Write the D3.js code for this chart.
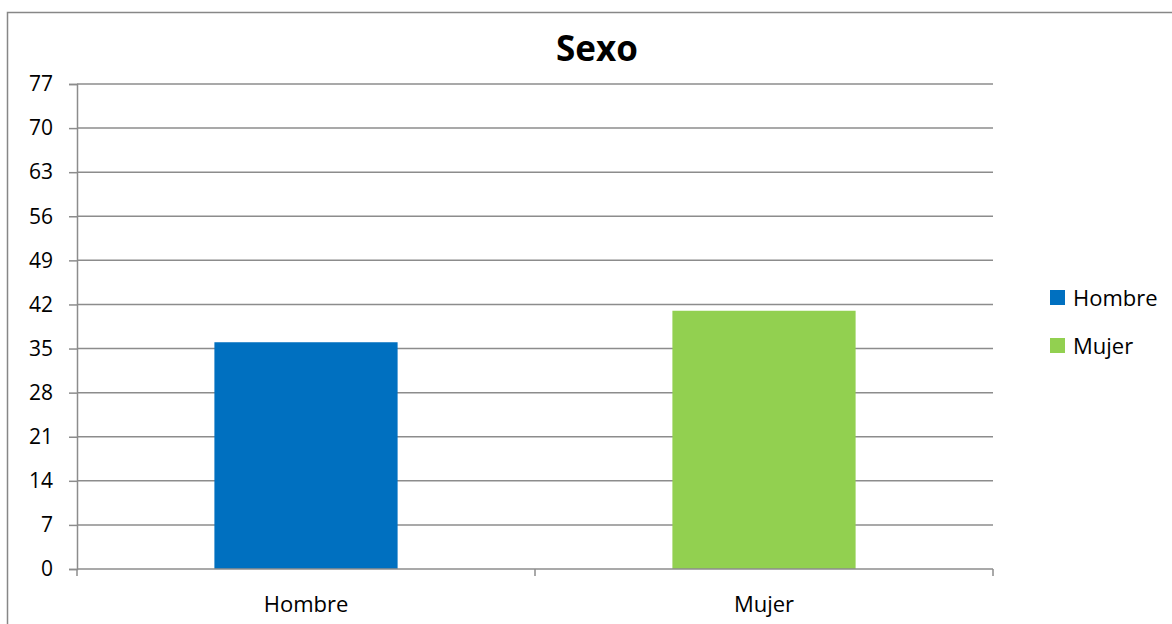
<!DOCTYPE html>
<html>
<head>
<meta charset="utf-8">
<script src="https://cdn.jsdelivr.net/npm/d3@7"></script>
<style>
  html, body { margin: 0; padding: 0; background: #fff; }
  svg { display: block; font-family: "Open Sans", "Noto Sans", sans-serif; }
</style>
</head>
<body>
<svg id="chart" width="1172" height="624"></svg>
<script>
// Survey respondents by sex
const categories = ["Hombre", "Mujer"];
const values = [36, 41];
const colors = ["#0070C0", "#92D050"];
const yTicks = [0, 7, 14, 21, 28, 35, 42, 49, 56, 63, 70, 77];
const title = "Sexo";

const svg = d3.select("#chart");
const plot = { left: 77, right: 993, top: 84, bottom: 569 };
const labelSize = 21;

// outer frame of the chart area
svg.append("rect")
  .attr("x", 7.5).attr("y", 12.5)
  .attr("width", 1200).attr("height", 700)
  .attr("fill", "none").attr("stroke", "#878787").attr("stroke-width", 1.5);

const x = d3.scaleBand().domain(categories).range([plot.left, plot.right]).paddingInner(0.6).paddingOuter(0.3);
const y = d3.scaleLinear().domain([0, 77]).range([plot.bottom, plot.top]);

// horizontal gridlines
svg.append("g")
  .selectAll("line")
  .data(yTicks.filter(d => d > 0))
  .join("line")
  .attr("x1", plot.left).attr("x2", plot.right)
  .attr("y1", d => y(d)).attr("y2", d => y(d))
  .attr("stroke", "#8c8c8c").attr("stroke-width", 1.5);

// y axis
const yAxis = svg.append("g")
  .attr("transform", `translate(${plot.left},0)`)
  .call(d3.axisLeft(y).tickValues(yTicks).tickSize(8).tickPadding(16));
yAxis.attr("font-size", null).attr("font-family", null);
yAxis.select(".domain").attr("stroke", "#8c8c8c").attr("stroke-width", 1.5);
yAxis.selectAll(".tick line").attr("stroke", "#8c8c8c").attr("stroke-width", 1.5);
yAxis.selectAll(".tick text").style("font-size", labelSize + "px").attr("fill", "#000");

// bars
svg.append("g")
  .selectAll("rect")
  .data(categories)
  .join("rect")
  .attr("x", d => x(d))
  .attr("width", x.bandwidth())
  .attr("y", (d, i) => y(values[i]))
  .attr("height", (d, i) => y(0) - y(values[i]))
  .attr("fill", (d, i) => colors[i]);

// x axis with boundary ticks between categories
const xb = d3.scaleLinear().domain([0, categories.length]).range([plot.left, plot.right]);
const xAxis = svg.append("g")
  .attr("transform", `translate(0,${plot.bottom})`);
xAxis.append("line")
  .attr("x1", plot.left).attr("x2", plot.right)
  .attr("stroke", "#8c8c8c").attr("stroke-width", 1.5);
xAxis.selectAll("line.tk")
  .data(d3.range(categories.length + 1))
  .join("line")
  .attr("class", "tk")
  .attr("x1", d => xb(d)).attr("x2", d => xb(d))
  .attr("y1", 0).attr("y2", 7)
  .attr("stroke", "#8c8c8c").attr("stroke-width", 1.5);
xAxis.selectAll("text")
  .data(categories)
  .join("text")
  .attr("x", d => x(d) + x.bandwidth() / 2)
  .attr("y", 43)
  .attr("text-anchor", "middle")
  .style("font-size", (labelSize + 1) + "px")
  .attr("fill", "#000")
  .text(d => d);

// title
svg.append("text")
  .attr("x", 597).attr("y", 61)
  .attr("text-anchor", "middle")
  .style("font-size", "35px").attr("font-weight", "bold")
  .attr("fill", "#000")
  .text(title);

// legend
const legend = svg.append("g").attr("transform", "translate(1050,290)");
const items = legend.selectAll("g")
  .data(categories)
  .join("g")
  .attr("transform", (d, i) => `translate(0,${i * 48})`);
items.append("rect")
  .attr("width", 15).attr("height", 15)
  .attr("fill", (d, i) => colors[i]);
items.append("text")
  .attr("x", 23).attr("y", 16)
  .style("font-size", (labelSize + 1) + "px").attr("fill", "#000")
  .text(d => d);
</script>
</body>
</html>
